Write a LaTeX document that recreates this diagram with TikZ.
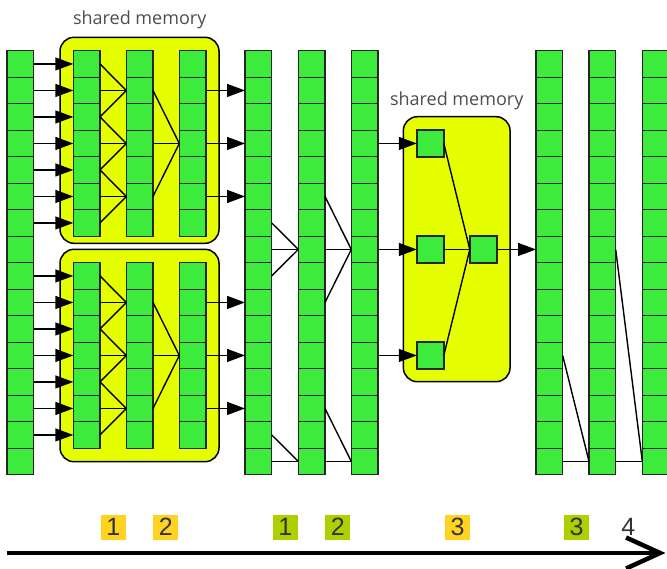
\documentclass[tikz,border=0pt]{standalone}
\usepackage{fontspec}
\setmainfont{Liberation Sans}
\newfontfamily\labelfont{Open Sans}
\usetikzlibrary{arrows.meta}
\definecolor{cellgreen}{HTML}{3DEB3D}
\definecolor{smyellow}{HTML}{E6FF00}
\definecolor{stepor}{HTML}{FFD320}
\definecolor{steplime}{HTML}{AECF00}
\definecolor{numgray}{HTML}{333333}
\definecolor{lblgray}{HTML}{4D4D4D}
\begin{document}
\begin{tikzpicture}[x=1pt,y=-1pt,
  cell/.style={draw=black!85,line width=1.4pt,fill=cellgreen,minimum width=26.7pt,minimum height=26.5pt,inner sep=0pt,outer sep=0pt},
  smem/.style={draw=black,line width=1.5pt,fill=smyellow,rounded corners=14pt,inner sep=0pt,outer sep=0pt},
  link/.style={draw=black,line width=1.4pt},
  arr/.style={link,-{Triangle[length=18pt,width=13pt]}},
  lbl/.style={text=lblgray,font=\labelfont\fontsize{18}{20}\selectfont,inner sep=0pt,anchor=base},
  badge/.style={minimum size=25pt,inner sep=0pt,text=numgray,font=\fontsize{25}{25}\selectfont}]
\useasboundingbox (0,0) rectangle (667,568);
% shared memory boxes
\node[smem,minimum width=159pt,minimum height=206pt] (box1) at (139.5,140.3) {};
\node[smem,minimum width=159pt,minimum height=212.4pt] (box2) at (139.5,355.5) {};
\node[smem,minimum width=106.7pt,minimum height=265pt] (box3) at (456.7,249.2) {};
\node[lbl] (lab1) at (139.7,24.5) {shared memory};
\node[lbl] (lab2) at (456.7,105.8) {shared memory};
% full columns
\foreach \c/\x in {0/7,4/245,5/298.3,6/351.3,7/536,8/589,9/642.3}
  \foreach \r in {0,...,15}
    \node[cell] (c\c-\r) at ({\x+13.35},{63.95+26.5*\r}) {};
% columns inside the first two shared memory boxes
\foreach \c/\x in {1/73.3,2/126.3,3/179.3}
  \foreach \r in {0,1,2,3,4,5,6,8,9,10,11,12,13,14}
    \node[cell] (c\c-\r) at ({\x+13.35},{63.95+26.5*\r}) {};
% squares in the third box
\node[cell,minimum width=27pt,minimum height=27pt] (s1) at (430.3,143.45) {};
\node[cell,minimum width=27pt,minimum height=27pt] (s2) at (430.3,249.45) {};
\node[cell,minimum width=27pt,minimum height=27pt] (s3) at (430.3,355.45) {};
\node[cell,minimum width=27pt,minimum height=27pt] (s4) at (483.3,249.45) {};
% loads into shared memory
\foreach \r in {0,1,2,3,4,5,6,8,9,10,11,12,13,14}
  \draw[arr] (c0-\r.east) -- (c1-\r.west);
% reductions inside boxes 1 and 2
\foreach \b in {0,8}{
  \pgfmathtruncatemacro\imd{\b+3}
  \foreach \k in {1,3,5}{
    \pgfmathtruncatemacro\ia{\b+\k-1}
    \pgfmathtruncatemacro\ib{\b+\k}
    \pgfmathtruncatemacro\ic{\b+\k+1}
    \draw[link] (c1-\ia.east) -- (c2-\ib.west);
    \draw[link] (c1-\ib.east) -- (c2-\ib.west);
    \draw[link] (c1-\ic.east) -- (c2-\ib.west);
    \draw[link] (c2-\ib.east) -- (c3-\imd.west);
    \draw[arr] (c3-\ib.east) -- (c4-\ib.west);
  }
}
% global steps
\foreach \a in {6,7,8} \draw[link] (c4-\a.east) -- (c5-7.west);
\foreach \a in {14,15} \draw[link] (c4-\a.east) -- (c5-15.west);
\foreach \a in {5,7,9} \draw[link] (c5-\a.east) -- (c6-7.west);
\foreach \a in {13,15} \draw[link] (c5-\a.east) -- (c6-15.west);
\draw[arr] (c6-3.east) -- (s1.west);
\draw[arr] (c6-7.east) -- (s2.west);
\draw[arr] (c6-11.east) -- (s3.west);
\foreach \s in {s1,s2,s3} \draw[link] (\s.east) -- (s4.west);
\draw[arr] (s4.east) -- (c7-7.west);
\foreach \a in {11,15} \draw[link] (c7-\a.east) -- (c8-15.west);
\foreach \a in {7,15} \draw[link] (c8-\a.east) -- (c9-15.west);
% step badges
\node[badge,fill=stepor] (n1) at (113.3,527) {1};
\node[badge,fill=stepor] (n2) at (165.8,527) {2};
\node[badge,fill=steplime] (m1) at (285.2,527) {1};
\node[badge,fill=steplime] (m2) at (337.8,527) {2};
\node[badge,fill=stepor] (n3) at (457.5,527) {3};
\node[badge,fill=steplime] (m3) at (576.5,527) {3};
\node[badge] (n4) at (628.3,527.3) {4};
% time axis
\coordinate (ax0) at (7,553);
\coordinate (ax1) at (665.5,553);
\draw[line width=4.5pt,-{Straight Barb[length=34pt,width=31pt]}] (ax0) -- (ax1);
\end{tikzpicture}
\end{document}
